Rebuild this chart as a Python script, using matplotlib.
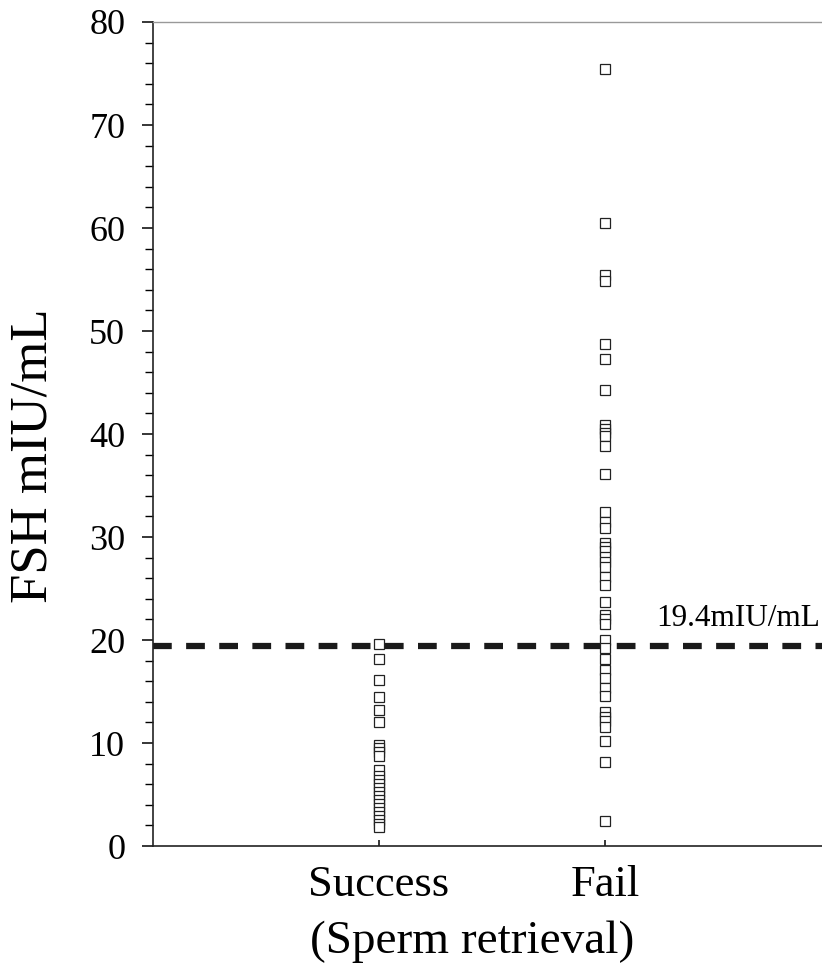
"""FSH levels by sperm retrieval outcome, with 19.4 mIU/mL cut-off."""

import matplotlib

matplotlib.use("Agg")
import matplotlib.pyplot as plt
from matplotlib.ticker import MultipleLocator
import matplotlib.transforms as mtransforms

plt.rcParams["font.family"] = ["Liberation Serif", "DejaVu Serif"]

categories = ["Success", "Fail"]
success_fsh = [
    19.6, 18.2, 16.1, 14.5, 13.2, 12.0, 9.8, 9.5, 9.1, 8.7, 7.4, 6.8, 6.4,
    6.0, 5.6, 5.2, 4.9, 4.5, 4.1, 3.7, 3.3, 2.9, 2.5, 2.1, 1.8,
]
fail_fsh = [
    75.4, 60.5, 55.4, 54.9, 48.7, 47.3, 44.3, 40.9, 40.5, 40.1, 39.8, 38.8,
    36.1, 32.4, 31.5, 30.9, 29.4, 29.0, 28.6, 28.1, 27.6, 27.1, 26.1, 25.3,
    23.7, 22.4, 22.0, 21.6, 20.0, 19.2, 18.2, 17.1, 16.3, 15.3, 14.6, 13.0,
    12.5, 12.1, 11.6, 10.2, 8.2, 2.4,
]
cutoff = 19.4
cutoff_label = "19.4mIU/mL"

fig = plt.figure(figsize=(8.22, 9.69), dpi=100)
ax = fig.add_axes([0.1861, 0.1269, 0.8139, 0.8504])

for pos, values in zip([1, 2], [success_fsh, fail_fsh]):
    ax.plot(
        [pos] * len(values),
        values,
        linestyle="none",
        marker="s",
        markersize=7,
        markerfacecolor="white",
        markeredgecolor="#222222",
        markeredgewidth=0.9,
        zorder=3,
    )

ax.axhline(cutoff, color="#1a1a1a", linewidth=4.5, dashes=(3, 2.3), zorder=2)
trans = mtransforms.blended_transform_factory(ax.transAxes, ax.transData)
ax.text(0.997, cutoff + 1.3, cutoff_label, transform=trans, ha="right",
        va="bottom", fontsize=22.5)

ax.set_xlim(0, 2.96)
ax.set_ylim(0, 80)
ax.set_xticks([1, 2])
ax.set_xticklabels(categories, fontsize=32)
ax.yaxis.set_major_locator(MultipleLocator(10))
ax.yaxis.set_minor_locator(MultipleLocator(2))
ax.tick_params(axis="y", which="major", direction="out", length=8, width=1.1,
               pad=12, labelsize=26)
ax.tick_params(axis="y", which="minor", direction="out", length=5.5, width=1.0)
ax.tick_params(axis="x", direction="in", length=4, width=1.1, pad=14)

ax.spines["right"].set_visible(False)
ax.spines["top"].set_color("#999999")
ax.spines["top"].set_linewidth(1.0)
for side in ["left", "bottom"]:
    ax.spines[side].set_linewidth(1.2)
    ax.spines[side].set_color("#222222")

fig.text(34 / 822, 1 - 456 / 969, "FSH mIU/mL", rotation=90, ha="center",
         va="center", fontsize=38)
fig.text(472 / 822, 1 - 942 / 969, "(Sperm retrieval)", ha="center",
         va="center", fontsize=34)

fig.savefig("out.png", dpi=100)
